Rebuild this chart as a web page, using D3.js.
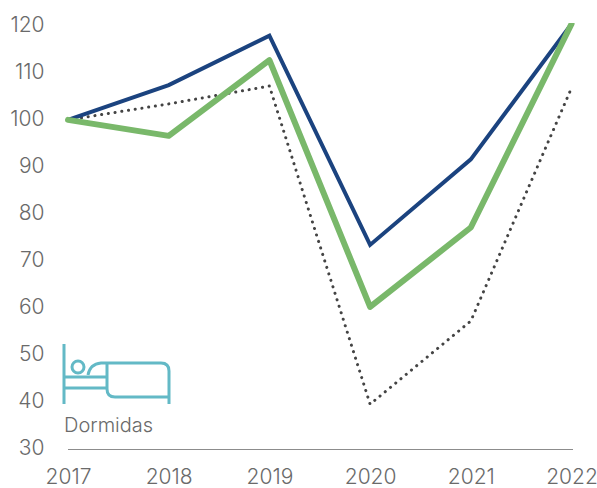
<!DOCTYPE html>
<html>
<head>
<meta charset="utf-8">
<script src="https://cdn.jsdelivr.net/npm/d3@7"></script>
<style>
  html, body { margin: 0; padding: 0; background: #fff; }
  text { font-family: Inter, "Open Sans", sans-serif; font-weight: 300; fill: #6a6a6a; }
</style>
</head>
<body>
<div id="chart"></div>
<script>
const years = [2017, 2018, 2019, 2020, 2021, 2022];
const yTicks = [30, 40, 50, 60, 70, 80, 90, 100, 110, 120];
const blueValues = [99.6, 107, 117.5, 73, 91.2, 120];
const greenValues = [99.6, 96.2, 112.3, 59.8, 76.7, 120];
const dottedValues = [99.6, 103, 106.8, 39.1, 56.8, 106.4];
const iconLabel = "Dormidas";

const width = 597;
const height = 488;

const svg = d3.select("#chart")
  .append("svg")
  .attr("width", width)
  .attr("height", height)
  .style("display", "block");

const x = d3.scalePoint().domain(years).range([68, 571.5]);
const y = d3.scaleLinear().domain([30, 120]).range([447, 24]);

// lines stop at the top of the plot, 2022 runs off the scale
svg.append("clipPath").attr("id", "plot")
  .append("rect")
  .attr("x", 0).attr("y", 23)
  .attr("width", width).attr("height", 430);

// y axis, labels only
const yAxis = svg.append("g")
  .attr("transform", "translate(44.5,0)")
  .call(d3.axisLeft(y).tickValues(yTicks).tickSize(0).tickPadding(0));
yAxis.select(".domain").remove();
yAxis.selectAll("text")
  .attr("dy", "0.36em")
  .style("font-size", "21px");

// x axis
const xAxis = svg.append("g")
  .attr("transform", "translate(0,449.5)")
  .call(d3.axisBottom(x).tickSize(0).tickPadding(20).tickFormat(d3.format("d")));
xAxis.select(".domain").attr("d", "M68,0H573").attr("stroke", "#8c8c8c").attr("stroke-width", 1);
xAxis.selectAll("text").style("font-size", "21px");

const line = d3.line()
  .x((d, i) => x(years[i]))
  .y(d => y(d));

const lines = svg.append("g").attr("clip-path", "url(#plot)").attr("fill", "none");

lines.append("path")
  .attr("d", line(dottedValues))
  .attr("stroke", "#444")
  .attr("stroke-width", 3)
  .attr("stroke-linecap", "round")
  .attr("stroke-dasharray", "0.1 6.7");

lines.append("path")
  .attr("d", line(blueValues))
  .attr("stroke", "#1b437f")
  .attr("stroke-width", 4);

lines.append("path")
  .attr("d", line(greenValues))
  .attr("stroke", "#79b86a")
  .attr("stroke-width", 6)
  .attr("stroke-linecap", "round")
  .attr("stroke-linejoin", "round");

// bed icon
const icon = svg.append("g")
  .attr("fill", "none")
  .attr("stroke", "#63b9c6")
  .attr("stroke-width", 3);
icon.append("path").attr("d", "M64 344V404M64 377H107M64 388H107");
icon.append("circle").attr("cx", 78).attr("cy", 367).attr("r", 6);
icon.append("path").attr("d", "M88 375Q90 364 101 363H161Q169 363 169 371V397H115Q107 397 107 389V363M169 397V404");

svg.append("text")
  .attr("x", 64)
  .attr("y", 432)
  .style("font-size", "20px")
  .text(iconLabel);
</script>
</body>
</html>
